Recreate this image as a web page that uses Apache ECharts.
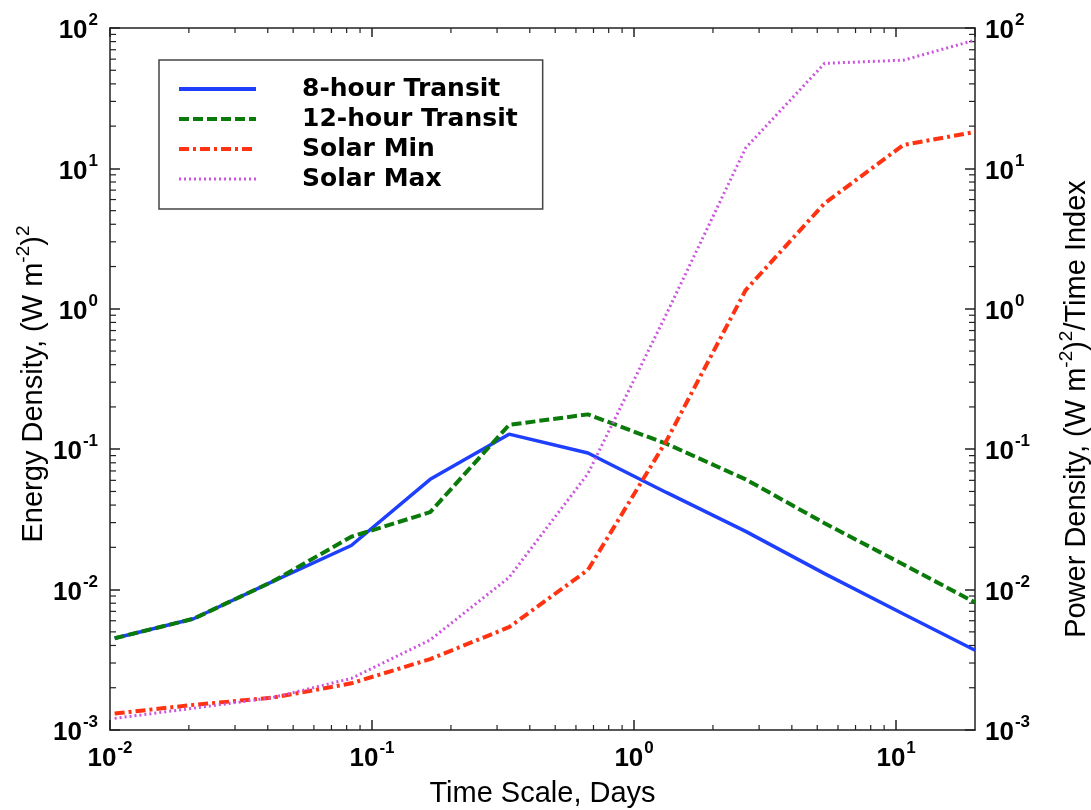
<!DOCTYPE html>
<html>
<head>
<meta charset="utf-8">
<script src="https://cdn.jsdelivr.net/npm/echarts@6/dist/echarts.min.js"></script>
<style>
  html, body { margin: 0; padding: 0; background: #fff; }
  #graph { width: 1091px; height: 810px; }
</style>
</head>
<body>
<div id="graph"></div>
<script>
// time scales in days (15 min doubling), last point at the right edge
var days = [0.0104167, 0.0208333, 0.0416667, 0.0833333, 0.1666667, 0.3333333,
            0.6666667, 1.3333333, 2.6666667, 5.3333333, 10.666667, 20];

var transit8  = [0.0045, 0.0062, 0.0114, 0.0206, 0.061, 0.128, 0.094, 0.049, 0.026, 0.013, 0.0067, 0.0037];
var transit12 = [0.0045, 0.0062, 0.0114, 0.0238, 0.0356, 0.149, 0.177, 0.109, 0.061, 0.0297, 0.0151, 0.0081];
var solarMin  = [0.00131, 0.00151, 0.0017, 0.00215, 0.0032, 0.0054, 0.0138, 0.116, 1.36, 5.64, 14.7, 18.2];
var solarMax  = [0.00121, 0.00143, 0.0017, 0.00233, 0.00438, 0.0122, 0.067, 0.93, 14, 56, 59, 82];

var seriesNames = ['8-hour Transit', '12-hour Transit', 'Solar Min', 'Solar Max'];

// minor tick positions for the log axes
var xMinorTicks = [0.02, 0.03, 0.04, 0.05, 0.06, 0.07, 0.08, 0.09,
                   0.2, 0.3, 0.4, 0.5, 0.6, 0.7, 0.8, 0.9,
                   2, 3, 4, 5, 6, 7, 8, 9];
var yMinorTicks = [0.002, 0.003, 0.004, 0.005, 0.006, 0.007, 0.008, 0.009,
                   0.02, 0.03, 0.04, 0.05, 0.06, 0.07, 0.08, 0.09,
                   0.2, 0.3, 0.4, 0.5, 0.6, 0.7, 0.8, 0.9,
                   2, 3, 4, 5, 6, 7, 8, 9,
                   20, 30, 40, 50, 60, 70, 80, 90];

function pairs(xs, ys) {
    return xs.map(function (x, i) { return [x, ys[i]]; });
}

var labelRich = {
    b: { fontFamily: 'Liberation Sans', fontWeight: 'bold', fontSize: 26, color: '#000', lineHeight: 32, verticalAlign: 'bottom' },
    s: { fontFamily: 'Liberation Sans', fontWeight: 'bold', fontSize: 17, color: '#000', lineHeight: 32, verticalAlign: 'top', padding: [0, 0, 0, 1] }
};
var nameRich = {
    t: { fontFamily: 'Liberation Sans', fontSize: 29, color: '#000', lineHeight: 34, verticalAlign: 'bottom' },
    s: { fontFamily: 'Liberation Sans', fontSize: 19, color: '#000', lineHeight: 34, verticalAlign: 'top' }
};

function powLabel(v) {
    var e = Math.log(v) / Math.LN10;
    var r = Math.round(e);
    if (Math.abs(e - r) > 1e-6) return '';
    return '{b|10}{s|' + r + '}';
}

var axisLine = { show: true, lineStyle: { color: '#222', width: 1.5 } };
var majorTick = { show: true, inside: true, length: 10, lineStyle: { color: '#222', width: 1.5 } };

function minorX(params, api) {
    var p = api.coord([api.value(0), 1]);
    var cs = params.coordSys;
    var st = { stroke: '#222', lineWidth: 1.2 };
    return { type: 'group', children: [
        { type: 'line', shape: { x1: p[0], y1: cs.y + cs.height, x2: p[0], y2: cs.y + cs.height - 5 }, style: st },
        { type: 'line', shape: { x1: p[0], y1: cs.y, x2: p[0], y2: cs.y + 5 }, style: st }
    ] };
}
function minorY(params, api) {
    var p = api.coord([1, api.value(1)]);
    var cs = params.coordSys;
    var st = { stroke: '#222', lineWidth: 1.2 };
    return { type: 'group', children: [
        { type: 'line', shape: { x1: cs.x, y1: p[1], x2: cs.x + 6, y2: p[1] }, style: st },
        { type: 'line', shape: { x1: cs.x + cs.width, y1: p[1], x2: cs.x + cs.width - 6, y2: p[1] }, style: st }
    ] };
}

var option = {
    animation: false,
    backgroundColor: '#fff',
    grid: { left: 110, right: 116, top: 28, bottom: 80, outerBoundsMode: 'none' },
    legend: {
        orient: 'vertical',
        left: 159, top: 60,
        padding: [14, 25, 15, 18],
        itemGap: 0,
        itemWidth: 77, itemHeight: 14,
        borderColor: '#444', borderWidth: 1.5,
        backgroundColor: '#fff',
        selectedMode: false,
        itemStyle: { opacity: 0 },
        lineStyle: { width: 4 },
        textStyle: { fontFamily: 'DejaVu Sans', fontWeight: 'bold', fontSize: 25, color: '#000', lineHeight: 30, padding: [0, 0, 0, 41] },
        data: [seriesNames[0], seriesNames[1], seriesNames[2],
               { name: seriesNames[3], lineStyle: { width: 3 } }]
    },
    xAxis: [{
        type: 'log', logBase: 10, min: 0.01, max: 20, position: 'bottom',
        axisLine: axisLine, axisTick: majorTick, splitLine: { show: false },
        axisLabel: { margin: 10, formatter: powLabel, rich: labelRich, showMaxLabel: false },
        name: '{t|Time Scale, Days}', nameLocation: 'middle', nameGap: 44, nameMoveOverlap: false,
        nameTextStyle: { rich: nameRich }
    }, {
        type: 'log', logBase: 10, min: 0.01, max: 20, position: 'top',
        axisLine: axisLine, axisTick: { show: true, inside: true, length: 9, lineStyle: { color: '#222', width: 1.5 } },
        axisLabel: { show: false }, splitLine: { show: false }
    }],
    yAxis: [{
        type: 'log', logBase: 10, min: 0.001, max: 100, position: 'left',
        axisLine: axisLine, axisTick: majorTick, splitLine: { show: false },
        axisLabel: { margin: 12, formatter: powLabel, rich: labelRich },
        name: '{t|Energy Density, (W m}{s|-2}{t|)}{s|2}', nameLocation: 'middle', nameGap: 62, nameRotate: 90,
        nameMoveOverlap: false,
        nameTextStyle: { rich: nameRich, padding: [0, 10, 0, 0] }
    }, {
        type: 'log', logBase: 10, min: 0.001, max: 100, position: 'right',
        axisLine: axisLine, axisTick: majorTick, splitLine: { show: false },
        axisLabel: { margin: 10, formatter: powLabel, rich: labelRich },
        name: '{t|Power Density, (W m}{s|-2}{t|)}{s|2}{t|/Time Index}', nameLocation: 'middle', nameGap: 82, nameRotate: 90,
        nameMoveOverlap: false,
        nameTextStyle: { rich: nameRich, padding: [0, 60, 0, 0] }
    }],
    series: [{
        name: seriesNames[0], type: 'line', symbol: 'none', z: 3,
        lineStyle: { color: '#1f3fff', width: 3.5, type: 'solid' },
        data: pairs(days, transit8)
    }, {
        name: seriesNames[1], type: 'line', symbol: 'none', z: 4,
        lineStyle: { color: '#0a7a0a', width: 4, type: [10, 4] },
        data: pairs(days, transit12)
    }, {
        name: seriesNames[2], type: 'line', symbol: 'none', z: 5,
        lineStyle: { color: '#ff3311', width: 4, type: [10, 4, 3, 4] },
        data: pairs(days, solarMin)
    }, {
        name: seriesNames[3], type: 'line', symbol: 'none', z: 6,
        lineStyle: { color: '#cc55dd', width: 3, type: [2, 3] },
        data: pairs(days, solarMax)
    }, {
        type: 'custom', renderItem: minorX, silent: true, z: 2,
        data: xMinorTicks.map(function (v) { return [v, 1]; })
    }, {
        type: 'custom', renderItem: minorY, silent: true, z: 2,
        data: yMinorTicks.map(function (v) { return [1, v]; })
    }]
};

var chart = echarts.init(document.getElementById('graph'));
chart.setOption(option);
</script>
</body>
</html>
